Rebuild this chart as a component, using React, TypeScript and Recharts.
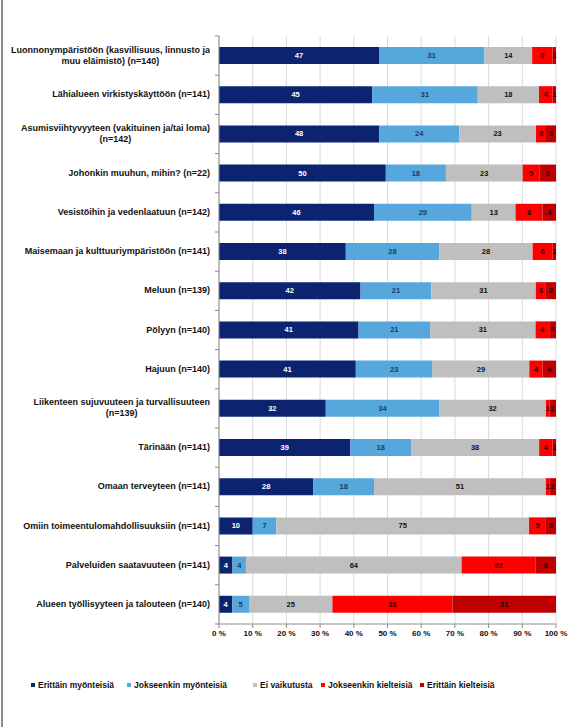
import React from 'react';
import { BarChart, Bar, XAxis, YAxis, CartesianGrid, Legend, LabelList } from 'recharts';

const categories = [
  'Luonnonympäristöön (kasvillisuus, linnusto ja\nmuu eläimistö) (n=140)',
  'Lähialueen virkistyskäyttöön (n=141)',
  'Asumisviihtyvyyteen (vakituinen ja/tai loma)\n(n=142)',
  'Johonkin muuhun, mihin? (n=22)',
  'Vesistöihin ja vedenlaatuun (n=142)',
  'Maisemaan ja kulttuuriympäristöön (n=141)',
  'Meluun (n=139)',
  'Pölyyn (n=140)',
  'Hajuun (n=140)',
  'Liikenteen sujuvuuteen ja turvallisuuteen\n(n=139)',
  'Tärinään (n=141)',
  'Omaan terveyteen (n=141)',
  'Omiin toimeentulomahdollisuuksiin (n=141)',
  'Palveluiden saatavuuteen (n=141)',
  'Alueen työllisyyteen ja talouteen (n=140)',
];

const erittainMyonteisia = [47, 45, 48, 50, 46, 38, 42, 41, 41, 32, 39, 28, 10, 4, 4];
const jokseenkinMyonteisia = [31, 31, 24, 18, 29, 28, 21, 21, 23, 34, 18, 18, 7, 4, 5];
const eiVaikutusta = [14, 18, 23, 23, 13, 28, 31, 31, 29, 32, 38, 51, 75, 64, 25];
const jokseenkinKielteisia = [6, 4, 3, 5, 8, 6, 3, 4, 4, 1, 4, 1, 5, 22, 36];
const erittainKielteisia = [1, 1, 3, 5, 4, 1, 3, 2, 4, 2, 1, 2, 3, 6, 31];

const seriesNames = [
  'Erittäin myönteisiä',
  'Jokseenkin myönteisiä',
  'Ei vaikutusta',
  'Jokseenkin kielteisiä',
  'Erittäin kielteisiä',
];
const xTicks = [0, 0.1, 0.2, 0.3, 0.4, 0.5, 0.6, 0.7, 0.8, 0.9, 1];

const keys = ['s1', 's2', 's3', 's4', 's5'];
const colors = ['#0C2470', '#56A8DC', '#BFBFBF', '#FF0000', '#C00000'];
const labelColors = ['#FFFFFF', '#1F3864', '#111111', '#3a0000', '#3a0000'];
const legendX = [31, 127, 253, 321, 420];

const data = categories.map((c, i) => ({
  name: c,
  s1: erittainMyonteisia[i],
  s2: jokseenkinMyonteisia[i],
  s3: eiVaikutusta[i],
  s4: jokseenkinKielteisia[i],
  s5: erittainKielteisia[i],
}));

const W = 578;
const H = 727;
const AXIS_X = 219;
const TOP = 36;
const PLOT_BOTTOM = 625;
const BAND = (PLOT_BOTTOM - TOP) / categories.length;
const FONT = 'Liberation Sans, Arial, sans-serif';

const YTick = (props: any) => {
  const { y, payload, index } = props;
  const half = payload && typeof payload.offset === 'number' && payload.offset > 0 ? payload.offset : BAND / 2;
  const lines = String(payload.value).split('\n');
  return (
    <g>
      <line x1={AXIS_X - 4} x2={AXIS_X} y1={y - half} y2={y - half} stroke="#8c8c8c" strokeWidth={1} />
      {index === categories.length - 1 ? (
        <line x1={AXIS_X - 4} x2={AXIS_X} y1={y + half} y2={y + half} stroke="#8c8c8c" strokeWidth={1} />
      ) : null}
      <foreignObject x={0} y={y - 20} width={AXIS_X - 9} height={40}>
        <div
          style={{
            display: 'flex',
            height: '40px',
            alignItems: 'center',
            justifyContent: 'flex-end',
          }}
        >
          <div
            style={{
              textAlign: 'center',
              fontFamily: FONT,
              fontWeight: 'bold',
              fontSize: '9px',
              lineHeight: '11px',
              color: '#111',
              whiteSpace: 'nowrap',
            }}
          >
            {lines.map((l, k) => (
              <div key={k}>{l}</div>
            ))}
          </div>
        </div>
      </foreignObject>
    </g>
  );
};

const makeLabel = (color: string) => (props: any) => {
  const { x, y, width, height, value } = props;
  return (
    <text
      x={x + width / 2}
      y={y + height / 2}
      textAnchor="middle"
      dominantBaseline="central"
      fontFamily={FONT}
      fontWeight="bold"
      fontSize={7.5}
      fill={color}
    >
      {value}
    </text>
  );
};

const LegendContent = () => (
  <div
    style={{
      position: 'relative',
      width: W,
      height: '20px',
      fontFamily: FONT,
      fontWeight: 'bold',
      fontSize: '8.5px',
      color: '#111',
    }}
  >
    {seriesNames.map((n, i) => (
      <div
        key={n}
        style={{
          position: 'absolute',
          left: legendX[i],
          top: 0,
          height: '20px',
          display: 'flex',
          alignItems: 'center',
          whiteSpace: 'nowrap',
        }}
      >
        <span
          style={{
            display: 'inline-block',
            width: '4px',
            height: '4px',
            background: colors[i],
            marginRight: '3px',
          }}
        />
        <span>{n}</span>
      </div>
    ))}
  </div>
);

export default function App() {
  return (
    <div style={{ position: 'absolute', left: 0, top: 0, width: W, height: H, background: '#fff' }}>
      <div style={{ position: 'absolute', left: 1, top: 0, width: 2, height: H, background: '#8c8c8c' }} />
      <BarChart
        width={W}
        height={H}
        data={data}
        layout="vertical"
        stackOffset="expand"
        barCategoryGap="28%"
        margin={{ top: TOP, right: 22, bottom: 63, left: 0 }}
      >
        <CartesianGrid horizontal={false} stroke="#d9d9d9" />
        <XAxis
          type="number"
          domain={[0, 1]}
          ticks={xTicks}
          tickFormatter={(v: number) => `${Math.round(v * 100)} %`}
          axisLine={{ stroke: '#8c8c8c' }}
          tickLine={{ stroke: '#8c8c8c' }}
          tickSize={4}
          height={20}
          tick={{ fontFamily: FONT, fontWeight: 'bold', fontSize: 8, fill: '#111' }}
          interval={0}
        />
        <YAxis
          type="category"
          dataKey="name"
          width={AXIS_X}
          axisLine={{ stroke: '#8c8c8c' }}
          tickLine={false}
          tick={<YTick />}
          interval={0}
        />
        <Legend
          verticalAlign="bottom"
          content={<LegendContent />}
          wrapperStyle={{ top: 675, bottom: 'auto', left: 0, width: W, height: 20 }}
        />
        {keys.map((k, i) => (
          <Bar key={k} dataKey={k} name={seriesNames[i]} stackId="a" fill={colors[i]} isAnimationActive={false}>
            <LabelList dataKey={k} content={makeLabel(labelColors[i])} />
          </Bar>
        ))}
      </BarChart>
    </div>
  );
}
